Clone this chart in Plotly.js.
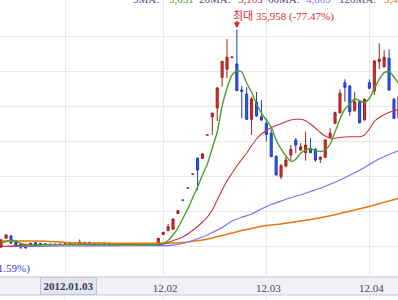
<!DOCTYPE html>
<html><head><meta charset="utf-8">
<script src="https://cdn.plot.ly/plotly-3.0.1.min.js"></script>
<style>html,body{margin:0;padding:0;background:#fff;overflow:hidden}#c{width:398px;height:300px}</style>
</head><body><div id="c"></div><script>
const dates = ['2011-12-13','2011-12-14','2011-12-15','2011-12-16','2011-12-19','2011-12-20','2011-12-21','2011-12-22','2011-12-23','2011-12-26','2011-12-27','2011-12-28','2011-12-29',
'2012-01-02','2012-01-03','2012-01-04','2012-01-05','2012-01-06','2012-01-09','2012-01-10','2012-01-11','2012-01-12','2012-01-13','2012-01-16','2012-01-17','2012-01-18','2012-01-19','2012-01-20','2012-01-25','2012-01-26','2012-01-27','2012-01-30','2012-01-31',
'2012-02-01','2012-02-02','2012-02-03','2012-02-06','2012-02-07','2012-02-08','2012-02-09','2012-02-10','2012-02-13','2012-02-14','2012-02-15','2012-02-16','2012-02-17','2012-02-20','2012-02-21','2012-02-22','2012-02-23','2012-02-24','2012-02-27','2012-02-28','2012-02-29',
'2012-03-02','2012-03-05','2012-03-06','2012-03-07','2012-03-08','2012-03-09','2012-03-12','2012-03-13','2012-03-14','2012-03-15','2012-03-16','2012-03-19','2012-03-20','2012-03-21','2012-03-22','2012-03-23','2012-03-26','2012-03-27','2012-03-28','2012-03-29','2012-03-30',
'2012-04-02','2012-04-03','2012-04-04','2012-04-05','2012-04-06','2012-04-09','2012-04-10'];

const openP = [4857,6100,6429,5500,5286,4714,5186,5471,5386,5286,5250,5240,5250,
5214,5357,5250,5286,5286,5500,5290,5290,5357,5357,5250,5250,5250,5250,5250,5250,5250,5250,5250,5386,
6643,7186,7386,9643,11550,13282,15274,17565,17500,20864,23430,24714,29071,30243,31900,31000,27286,26714,23100,25571,23471,
22500,21100,17786,14900,16429,18000,20143,18714,18329,18957,18814,17386,17671,20529,22529,24043,28329,27857,24329,25614,23000,
28329,27143,31329,30614,31814,25957,23286];
const highP = [6000,6714,6571,5571,5357,4929,5500,5529,5429,5314,5270,5260,5270,
5429,5429,5290,5929,5643,5643,5300,5300,5500,5400,5260,5250,5250,5250,5250,5250,5250,5250,5250,6143,
7000,8143,8929,10100,11550,13282,15274,17565,18286,20864,23994,27593,31429,34571,32000,35958,27857,27671,26329,27000,25857,
23243,21857,18000,16714,17714,19429,20429,19714,21329,20386,19000,17786,20286,21814,24186,27386,28814,28000,27043,25786,26071,
28814,31571,33957,32957,33100,26143,26571];
const lowP = [4714,6000,5286,5000,4571,4643,5143,5143,5143,5214,5230,5230,5240,
5143,5143,5210,5214,5214,5214,5280,5280,5143,5214,5240,5250,5250,5250,5250,5250,5250,5250,5250,5357,
6614,7143,7357,9614,11550,13282,15274,13000,17471,20864,20900,22857,27757,28957,31900,27143,23243,23000,20857,23429,22857,
19929,17714,15071,14529,16214,17286,18286,18571,17186,18286,17043,16857,17571,20429,22429,23929,25614,23571,24214,22500,22929,
27429,26571,30243,30500,27143,23143,23000];
const closeP = [5857,6571,5429,5143,4814,4900,5386,5186,5214,5257,5240,5250,5260,
5357,5214,5250,5571,5429,5286,5290,5290,5214,5243,5250,5250,5250,5250,5250,5250,5250,5250,5250,6100,
6957,7757,8857,10043,11550,13282,15274,15857,18143,20864,23994,27593,31386,31957,32000,27186,27071,23100,26000,23571,23000,
20929,17757,15143,16471,17286,18814,19429,19186,19429,18329,17286,17671,20143,21100,24043,26814,27671,24186,25614,22614,25957,
27529,31429,31671,31957,27286,23243,26329];

const ma5 = [5429,5643,5814,5714,5357,5214,5143,5100,5143,5157,5171,5186,5200,
5200,5214,5229,5243,5243,5229,5214,5214,5200,5200,5200,5200,5200,5200,5200,5200,5200,5200,5200,5257,
5400,5786,6571,7571,8929,10286,11857,13429,15143,16714,19000,21286,25000,27571,29429,30000,29857,28286,27000,25286,24000,
23000,22000,20143,18860,17857,17100,17386,18243,18714,18857,18671,18500,18714,19571,21286,23143,24571,25286,26000,25757,25500,
26100,27500,28814,29757,29929,29143,28143];
const ma20 = [4929,4964,5000,5036,5071,5107,5143,5164,5186,5193,5200,5200,5200,
5200,5200,5200,5200,5200,5200,5200,5200,5200,5200,5200,5200,5200,5200,5200,5200,5200,5200,5200,5200,
5243,5500,5786,6000,6286,6714,7214,7786,8429,9143,10143,11571,13000,14286,15357,16429,17357,18286,19357,20286,21000,
21500,21929,22214,22457,22786,23000,23100,23100,22900,22429,21857,21214,20714,20386,20386,20500,20571,20600,20614,20614,20857,
21714,22786,23357,23757,24071,24314,24529];

const ma60Dates = ['2011-12-13','2011-12-22','2012-01-02','2012-01-16','2012-01-30','2012-02-01','2012-02-03','2012-02-07','2012-02-09','2012-02-13','2012-02-15','2012-02-17','2012-02-21','2012-02-23','2012-02-27','2012-02-29','2012-03-05','2012-03-07','2012-03-09','2012-03-13','2012-03-15','2012-03-19','2012-03-21','2012-03-23','2012-03-27','2012-03-29','2012-04-02','2012-04-04','2012-04-06','2012-04-10'];
const ma60 = [4929,4957,5000,5029,5043,5043,5114,5357,5786,6286,6929,7643,8571,9100,9571,10286,10929,11429,11900,12314,12786,13257,13814,14429,15114,15829,16643,17457,18071,18643];

const ma120Dates = ['2011-12-13','2011-12-20','2011-12-26','2011-12-29','2012-01-04','2012-01-10','2012-01-16','2012-01-20','2012-01-30','2012-02-01','2012-02-03','2012-02-07','2012-02-09','2012-02-13','2012-02-15','2012-02-17','2012-02-21','2012-02-23','2012-02-27','2012-02-29','2012-03-05','2012-03-07','2012-03-09','2012-03-13','2012-03-15','2012-03-19','2012-03-21','2012-03-23','2012-03-27','2012-03-29','2012-04-02','2012-04-04','2012-04-06','2012-04-10'];
const ma120 = [5714,5714,5671,5571,5471,5429,5400,5386,5400,5400,5429,5500,5671,5857,6143,6500,6857,7214,7500,7814,8000,8143,8357,8571,8771,9029,9314,9643,9971,10314,10643,11029,11429,11814];

const tickDates = ['2012-01-02','2012-02-01','2012-03-02','2012-04-02'];
const tickLabels = ['','12.02','12.03','12.04'];
const priceGrid = [5000,10000,15000,20000,25000,30000,35000];
const legendLabels = ['5MA:','20MA:','60MA:','120MA:'];
const legendValues = ['5,631','5,163','4,869','5,423'];
const maxDate = '2012-02-22';
const maxPrice = 35958;
const maxLabel = '최대 35,958 (-77.47%)';
const minLabel = '최소 5,345 (+51.59%)';
const cursorDate = '2012-01-03';
const cursorLabel = '2012.01.03';

const serif = 'Liberation Serif, "Times New Roman", "Noto Sans CJK KR", serif';
const maColors = ['#4c9e2c','#cc3434','#7474f4','#e6780e'];

const traces = [
  {type:'candlestick', x:dates, open:openP, high:highP, low:lowP, close:closeP,
   increasing:{line:{color:'#a81c1c',width:1}, fillcolor:'#d83030'},
   decreasing:{line:{color:'#1c3cc0',width:1}, fillcolor:'#2c5cf0'},
   whiskerwidth:0, hoverinfo:'skip'},
  {type:'scatter', mode:'lines', x:ma120Dates, y:ma120, line:{color:maColors[3],width:1.5,shape:'spline',smoothing:0.6}, hoverinfo:'skip'},
  {type:'scatter', mode:'lines', x:ma60Dates, y:ma60, line:{color:maColors[2],width:1.2,shape:'spline',smoothing:0.6}, hoverinfo:'skip'},
  {type:'scatter', mode:'lines', x:dates, y:ma20, line:{color:maColors[1],width:1.1,shape:'spline',smoothing:0.6}, hoverinfo:'skip'},
  {type:'scatter', mode:'lines', x:dates, y:ma5, line:{color:maColors[0],width:1.4,shape:'spline',smoothing:0.6}, hoverinfo:'skip'}
];

const legendX = [131, 197, 266, 337];
const valueX = [167, 236, 304, 382];
const ann = [];
legendLabels.forEach((t,k)=>{
  ann.push({text:t, xref:'paper', yref:'paper', x:0, y:1, xshift:legendX[k], yshift:1, xanchor:'left', yanchor:'middle', showarrow:false, font:{family:serif,size:11,color:'#4c4c80'}});
  ann.push({text:legendValues[k], xref:'paper', yref:'paper', x:0, y:1, xshift:valueX[k], yshift:1, xanchor:'left', yanchor:'middle', showarrow:false, font:{family:serif,size:11,color:maColors[k]}});
});
ann.push({text:maxLabel, xref:'paper', yref:'paper', x:0, y:1, xshift:231, yshift:-16, xanchor:'left', yanchor:'middle', showarrow:false, font:{family:serif,size:11,color:'#e02828'}});
ann.push({text:' ', xref:'x', yref:'y', x:maxDate, y:maxPrice, showarrow:true, ax:0, ay:-9, arrowhead:2, arrowsize:0.6, arrowwidth:2, arrowcolor:'#e02828', standoff:1, borderpad:0, font:{size:1}});
ann.push({text:minLabel, xref:'paper', yref:'paper', x:0, y:0, xshift:32, yshift:277-268.5, xanchor:'right', yanchor:'middle', showarrow:false, font:{family:serif,size:11,color:'#3b3bd8'}});
ann.push({text:'<b>'+cursorLabel+'</b>', xref:'x', yref:'paper', x:cursorDate, y:0, xshift:-1, yshift:-9, xanchor:'center', yanchor:'middle', showarrow:false,
  width:55, height:16, borderpad:0, borderwidth:1, bordercolor:'#c2c2dc', bgcolor:'#e4e4f2', font:{family:serif,size:11,color:'#3a3a58'}});

const shapes = [
  {type:'rect', xref:'paper', yref:'paper', x0:-0.02, x1:1.02, y0:0, y1:-18/277, fillcolor:'#f1f1f5', line:{color:'#c6c6d8',width:1}, layer:'below'}
];
tickDates.forEach(d=>shapes.push({type:'line', xref:'x', yref:'paper', x0:d, x1:d, y0:-18.5/277, y1:-23/277, line:{color:'#e6e6e6',width:1}, layer:'below'}));

const layout = {
  width:398, height:300, margin:{l:0,r:0,t:0,b:23},
  paper_bgcolor:'#ffffff', plot_bgcolor:'#ffffff', showlegend:false, boxgap:0.4,
  xaxis:{type:'category', categoryorder:'array', categoryarray:dates, range:[-0.238,80.821],
    tickvals:tickDates, ticktext:tickLabels, showgrid:true, gridcolor:'#e8e8e8', gridwidth:1,
    ticks:'', showline:false, zeroline:false, rangeslider:{visible:false}, fixedrange:true,
    tickfont:{family:serif,size:11,color:'#44445e'}, ticklabelshift:2, ticklabelstandoff:3},
  yaxis:{range:[571.4,40142.9], tickvals:priceGrid, showticklabels:false, showgrid:true, gridcolor:'#e8e8e8',
    zeroline:false, showline:false, ticks:'', fixedrange:true},
  annotations:ann, shapes:shapes
};
Plotly.newPlot('c', traces, layout, {displayModeBar:false, staticPlot:true});
</script></body></html>
